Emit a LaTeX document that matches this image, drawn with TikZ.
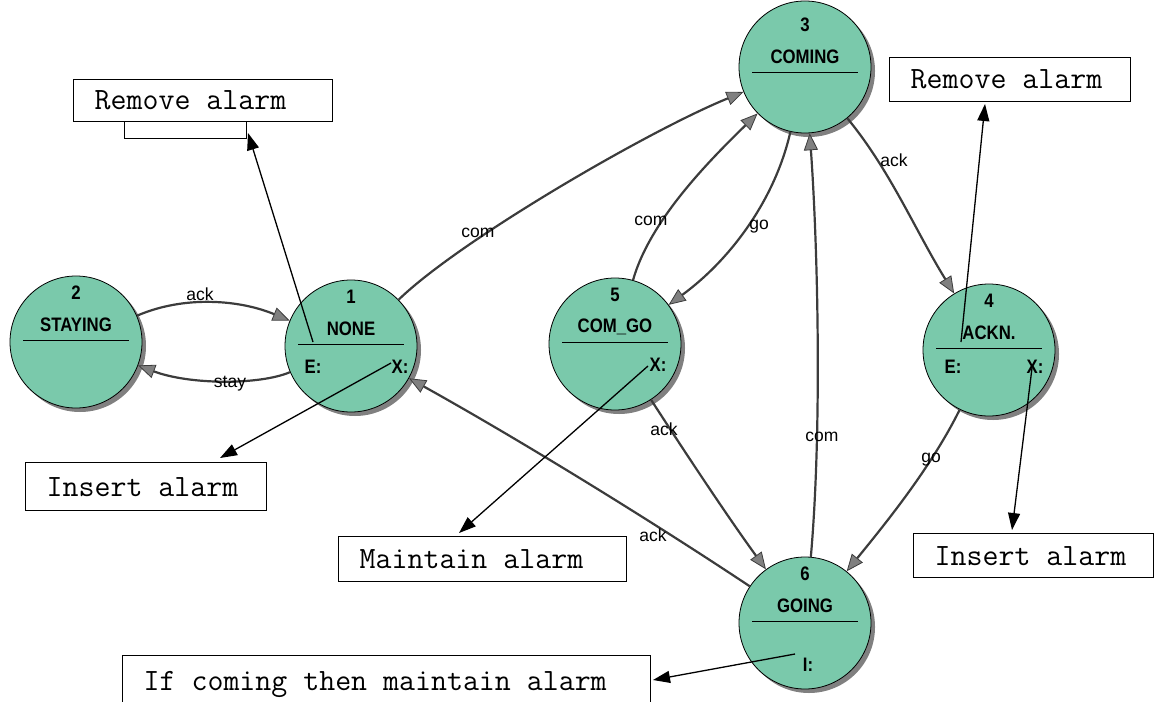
\documentclass[tikz,border=0pt]{standalone}
\usepackage{fontspec}
\setmainfont{Liberation Sans}
\newfontfamily\statefont[FakeStretch=0.86]{Liberation Sans}
\usetikzlibrary{calc, shadows, arrows.meta}

\definecolor{stategreen}{RGB}{122,201,171}
\definecolor{edgegray}{RGB}{60,60,60}

\newcommand\boxtext[2]{\makebox[#1][l]{#2}}

\tikzset{
  state/.style={circle, draw=black, line width=0.8pt, fill=stategreen,
    minimum size=132pt, inner sep=0pt,
    drop shadow={shadow xshift=4pt, shadow yshift=-4pt, fill=gray, opacity=1}},
  stxt/.style={font=\statefont\fontsize{19.5}{19.5}\selectfont\bfseries, inner sep=0pt},
  elabel/.style={font=\fontsize{17.5}{17.5}\selectfont, inner sep=0pt},
  trans/.style={draw=edgegray, line width=2.2pt,
    -{Triangle[length=17pt, width=14pt, fill=gray, line width=0.8pt]}},
  note/.style={draw=black, line width=1.3pt, -{Triangle[length=17pt, width=12pt]}},
  box/.style={draw, line width=1.4pt, fill=white, anchor=north west,
    font=\ttfamily\fontsize{31}{31}\selectfont, inner xsep=21pt}
}

\begin{document}
\begin{tikzpicture}[x=1pt, y=-1pt]
\path[use as bounding box, clip] (0,0) rectangle (1155,701);

% states
\foreach \n/\x/\y/\t/\dy in {2/76/342/STAYING/0, 1/351/346/NONE/0, 3/805/67/COMING/7,
    5/615/344/COM\_GO/0, 4/989/350/ACKN./0, 6/805/623/GOING/0}{
  \node[state] (s\n) at (\x,\y) {};
  \node[stxt] (n\n) at ($(s\n)+(0,-49+\dy)$) {\n};
  \node[stxt] (t\n) at ($(s\n)+(0,-17+\dy)$) {\t};
  \draw[line width=0.8pt] ($(s\n)+(-53,-2+\dy)$) -- ($(s\n)+(53,-2+\dy)$);
}
\node[stxt] (e1) at ($(s1)+(-38,21)$) {E:};
\node[stxt] (x1) at ($(s1)+(49,21)$) {X:};
\node[stxt] (x5) at ($(s5)+(43,21)$) {X:};
\node[stxt] (e4) at ($(s4)+(-36,17)$) {E:};
\node[stxt] (x4) at ($(s4)+(46,17)$) {X:};
\node[stxt] (i6) at ($(s6)+(3,42)$) {I:};

% transitions
\draw[trans] (s2) .. controls (185,295) and (240,300) .. (s1);
\draw[trans] (s1) .. controls (260,385) and (190,385) .. (s2);
\draw[trans] (s1) .. controls (460,240) and (650,130) .. (s3);
\draw[trans] (s5) .. controls (650,220) and (710,160) .. (s3);
\draw[trans] (s3) .. controls (775,200) and (730,260) .. (s5);
\draw[trans] (s3) .. controls (890,170) and (915,230) .. (s4);
\draw[trans] (s5) .. controls (690,460) and (730,520) .. (s6);
\draw[trans] (s6) .. controls (822,430) and (818,250) .. (s3);
\draw[trans] (s4) .. controls (930,470) and (880,530) .. (s6);
\draw[trans] (s6) .. controls (650,520) and (520,440) .. (s1);

\node[elabel] (l21) at (200,294) {ack};
\node[elabel] (l12) at (230,384) {stay};
\node[elabel] (l13) at (478,233) {com};
\node[elabel] (l53) at (651,221) {com};
\node[elabel] (l35) at (759,227) {go};
\node[elabel] (l34) at (894,160) {ack};
\node[elabel] (l56) at (664,429) {ack};
\node[elabel] (l63) at (822,437) {com};
\node[elabel] (l46) at (931,460) {go};
\node[elabel] (l61) at (653,535) {ack};

% action boxes
\node[draw, line width=1pt, fill=white, anchor=north west,
  minimum width=122pt, minimum height=38pt] (rmold) at (124,100) {};
\node[box, minimum height=42pt] (rm1) at (73,79) {\boxtext{217pt}{Remove alarm}};
\node[box, minimum height=44pt] (rm2) at (889,57) {\boxtext{199pt}{Remove alarm}};
\node[box, minimum height=48pt] (ins1) at (25,462) {\boxtext{199pt}{Insert alarm}};
\node[box, minimum height=45pt] (mnt) at (338,536) {\boxtext{246pt}{Maintain alarm}};
\node[box, minimum height=44pt] (ins2) at (913,533) {\boxtext{198pt}{Insert alarm}};
\node[box, minimum height=58pt] (ifc) at (122,655) {\boxtext{486pt}{If coming then maintain alarm}};

% entry / exit actions
\coordinate (a1) at (313,342);  \coordinate (b1) at (248,133);
\coordinate (a2) at (391,363);  \coordinate (b2) at (220,458);
\coordinate (a3) at (648,366);  \coordinate (b3) at (459,533);
\coordinate (a4) at (961,342);  \coordinate (b4) at (985,104);
\coordinate (a5) at (1032,368); \coordinate (b5) at (1012,530);
\coordinate (a6) at (795,654);  \coordinate (b6) at (653,680);
\foreach \i in {1,...,6}
  \draw[note] (a\i) -- (b\i);
\end{tikzpicture}
\end{document}
